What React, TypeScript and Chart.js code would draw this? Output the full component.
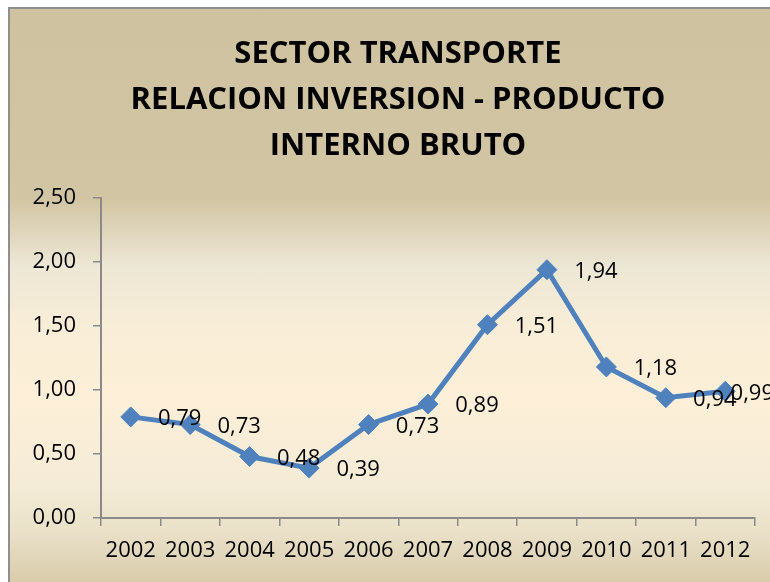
import React, { useEffect, useRef } from 'react';
import { Chart, registerables } from 'chart.js';

Chart.register(...registerables);

const titleLines = ['SECTOR TRANSPORTE', 'RELACION INVERSION - PRODUCTO', 'INTERNO BRUTO'];
const years = ['2002', '2003', '2004', '2005', '2006', '2007', '2008', '2009', '2010', '2011', '2012'];
const ratios = [0.79, 0.73, 0.48, 0.39, 0.73, 0.89, 1.51, 1.94, 1.18, 0.94, 0.99];
const yMin = 0;
const yMax = 2.5;
const yStep = 0.5;

const FONT = "'Open Sans', 'DejaVu Sans', sans-serif";
const fmt = (v: number) => Number(v).toFixed(2).replace('.', ',');

const titlePlugin = {
  id: 'customTitle',
  beforeDraw(chart: any) {
    const ctx = chart.ctx;
    ctx.save();
    ctx.font = `bold 31px ${FONT}`;
    ctx.fillStyle = '#000000';
    ctx.textAlign = 'center';
    ctx.textBaseline = 'alphabetic';
    titleLines.forEach((t, i) => ctx.fillText(t, 388, 54 + i * 46));
    ctx.restore();
  },
};

const labelPlugin = {
  id: 'valueLabels',
  afterDatasetsDraw(chart: any) {
    const ctx = chart.ctx;
    const meta = chart.getDatasetMeta(0);
    ctx.save();
    ctx.font = `22px ${FONT}`;
    ctx.fillStyle = '#000000';
    ctx.textAlign = 'center';
    ctx.textBaseline = 'middle';
    meta.data.forEach((pt: any, i: number) => {
      const txt = fmt(ratios[i]);
      const w = ctx.measureText(txt).width;
      let cx = pt.x + 49;
      cx = Math.min(cx, chart.width + 4 - w / 2);
      ctx.fillText(txt, cx, pt.y + 2);
    });
    ctx.restore();
  },
};

export default function App() {
  const ref = useRef<HTMLCanvasElement | null>(null);

  useEffect(() => {
    if (!ref.current) return;
    const chart = new Chart(ref.current, {
      type: 'line',
      data: {
        labels: years,
        datasets: [
          {
            data: ratios,
            borderColor: '#4F81BD',
            backgroundColor: '#4F81BD',
            borderWidth: 5,
            pointStyle: 'rectRot',
            pointRadius: 10,
            pointBorderWidth: 1,
            pointBorderColor: '#4F81BD',
            pointBackgroundColor: '#4F81BD',
            tension: 0,
            fill: false,
          },
        ],
      },
      options: {
        animation: false,
        responsive: false,
        layout: { padding: { top: 189, right: 15, left: 0, bottom: 0 } },
        plugins: {
          legend: { display: false },
          title: { display: false },
          tooltip: { enabled: false },
        },
        scales: {
          x: {
            type: 'category',
            offset: true,
            grid: {
              display: true,
              drawOnChartArea: false,
              drawTicks: true,
              tickLength: 8,
              offset: true,
              color: '#8a8a8a',
              lineWidth: 1.5,
            },
            border: { display: true, color: '#8a8a8a', width: 2 },
            ticks: {
              font: { family: FONT, size: 22 },
              color: '#000000',
              padding: 12,
              autoSkip: false,
              maxRotation: 0,
            },
            afterFit: (s: any) => {
              s.height = 64;
            },
          },
          y: {
            min: yMin,
            max: yMax,
            grid: {
              display: true,
              drawOnChartArea: false,
              drawTicks: true,
              tickLength: 8,
              color: '#8a8a8a',
              lineWidth: 1.5,
            },
            border: { display: true, color: '#8a8a8a', width: 2 },
            ticks: {
              stepSize: yStep,
              font: { family: FONT, size: 22 },
              color: '#000000',
              padding: 17,
              callback: (v: any) => fmt(v),
            },
            afterFit: (s: any) => {
              s.width = 91;
            },
          },
        },
      },
      plugins: [titlePlugin, labelPlugin],
    });
    return () => chart.destroy();
  }, []);

  return (
    <div
      style={{
        position: 'fixed',
        left: 8,
        top: 7,
        width: 762,
        height: 575,
        boxSizing: 'border-box',
        borderLeft: '2px solid #8f8f8f',
        borderTop: '2px solid #8f8f8f',
        overflow: 'hidden',
        background:
          'linear-gradient(to bottom, #CFC2A0 0%, #D2C5A3 33%, #EDE7D5 45%, #F8EDD7 55%, #FDEFD8 68%, #F4EBD6 84%, #E8DFC6 92%, #D9CCAB 100%)',
      }}
    >
      <canvas ref={ref} width={760} height={573} style={{ display: 'block' }} />
    </div>
  );
}
